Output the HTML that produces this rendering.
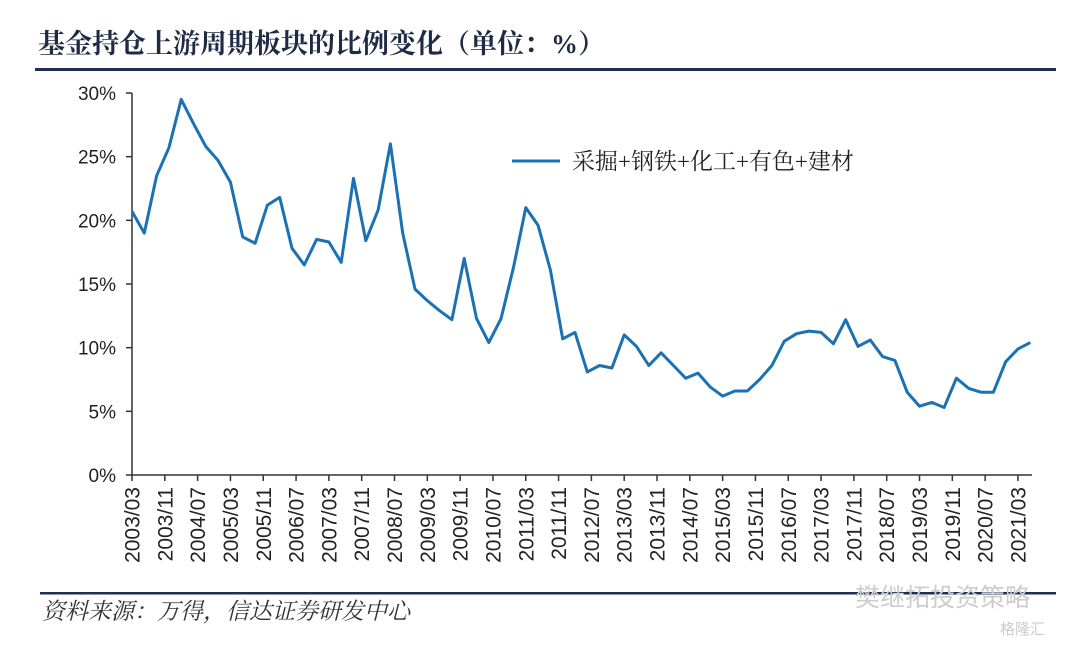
<!DOCTYPE html>
<html><head><meta charset="utf-8">
<style>
html,body{margin:0;padding:0;background:#fff;width:1080px;height:646px;overflow:hidden;}
svg{display:block;}
</style></head>
<body>
<svg id="chart" width="1080" height="646" xmlns="http://www.w3.org/2000/svg">
<text x="38" y="53" font-family="'Liberation Serif','Noto Serif CJK SC',serif" font-size="27" font-weight="bold" fill="#1f2a44">基金持仓上游周期板块的比例变化（单位：%）</text>
<rect x="35" y="68" width="1021" height="3" fill="#1f2f52"/>
<rect x="40" y="592" width="1016" height="2.5" fill="#1f2f52"/>
<text x="42" y="619" font-family="'Liberation Serif','Noto Serif CJK SC',serif" font-size="23" font-style="italic" fill="#333">资料来源：万得，信达证券研发中心</text>
<text x="855" y="606" font-family="'Liberation Sans','Noto Sans CJK SC',sans-serif" font-size="25" fill="#ccc">樊继拓投资策略</text>
<text x="1000" y="634" font-family="'Liberation Sans','Noto Sans CJK SC',sans-serif" font-size="15" fill="#ccc">格隆汇</text>
<g id="axes"></g>
<g id="plot"></g>
<line x1="512" y1="161" x2="560" y2="161" stroke="#1b71b3" stroke-width="3"/>
<text x="572" y="169" font-family="'Liberation Serif','Noto Serif CJK SC',serif" font-size="23" fill="#222">采掘+钢铁+化工+有色+建材</text>
</svg>
<script>
const values = [20.7,19.0,23.5,25.7,29.5,27.6,25.8,24.7,23.0,18.7,18.2,21.2,21.8,17.8,16.5,18.5,18.3,16.7,23.3,18.4,20.8,26.0,19.0,14.6,13.7,12.9,12.2,17.0,12.3,10.4,12.3,16.3,21.0,19.6,16.1,10.7,11.2,8.1,8.6,8.4,11.0,10.1,8.6,9.6,8.6,7.6,8.0,6.9,6.2,6.6,6.6,7.5,8.6,10.5,11.1,11.3,11.2,10.3,12.2,10.1,10.6,9.3,9.0,6.5,5.4,5.7,5.3,7.6,6.8,6.5,6.5,8.9,9.9,10.4];
const yTicks = [0,5,10,15,20,25,30];
const xLabels = ["2003/03","2003/11","2004/07","2005/03","2005/11","2006/07","2007/03","2007/11","2008/07","2009/03","2009/11","2010/07","2011/03","2011/11","2012/07","2013/03","2013/11","2014/07","2015/03","2015/11","2016/07","2017/03","2017/11","2018/07","2019/03","2019/11","2020/07","2021/03"];
const NS="http://www.w3.org/2000/svg";
const x0=132, qStep=12.305, y0=475, yTop=93;
function xq(q){return x0+q*qStep;}
function xLab(s){const [y,m]=s.split('/').map(Number);return xq(((y-2003)*12+(m-3))/3);}
function yv(v){return y0-(v/30)*(y0-yTop);}
const axes=document.getElementById('axes'), plot=document.getElementById('plot');
function mk(tag,attrs,parent){const e=document.createElementNS(NS,tag);for(const k in attrs)e.setAttribute(k,attrs[k]);parent.appendChild(e);return e;}
const yAxis=mk('line',{x1:x0,y1:yTop,x2:x0,y2:y0,stroke:'#333','stroke-width':1.5},axes);


const xAxis=mk('line',{x1:x0,y1:y0,x2:1032,y2:y0,stroke:'#333','stroke-width':1.5},axes);


yTicks.forEach(t=>{
  const tk=mk('line',{x1:x0-6,y1:yv(t),x2:x0,y2:yv(t),stroke:'#333','stroke-width':1.5},axes);
  
  
  const tx=mk('text',{x:x0-16,y:yv(t)+7,'text-anchor':'end','font-family':'Liberation Sans, sans-serif','font-size':19,fill:'#222'},axes);
  tx.textContent=t+'%';
  
  
});
xLabels.forEach(l=>{
  const x=xLab(l);
  const tk=mk('line',{x1:x,y1:y0,x2:x,y2:y0+6,stroke:'#333','stroke-width':1.5},axes);
  
  
  const tx=mk('text',{x:0,y:0,'text-anchor':'end','font-family':'Liberation Sans, sans-serif','font-size':21,fill:'#222',transform:`translate(${x+7.5},${y0+12}) rotate(-90)`},axes);
  tx.textContent=l;
  
  
});
const pts=values.map((v,i)=>xq(i).toFixed(1)+','+yv(v).toFixed(1)).join(' ');
const line=mk('polyline',{points:pts,fill:'none',stroke:'#1b71b3','stroke-width':3,'stroke-linejoin':'round'},plot);


</script>
</body></html>
